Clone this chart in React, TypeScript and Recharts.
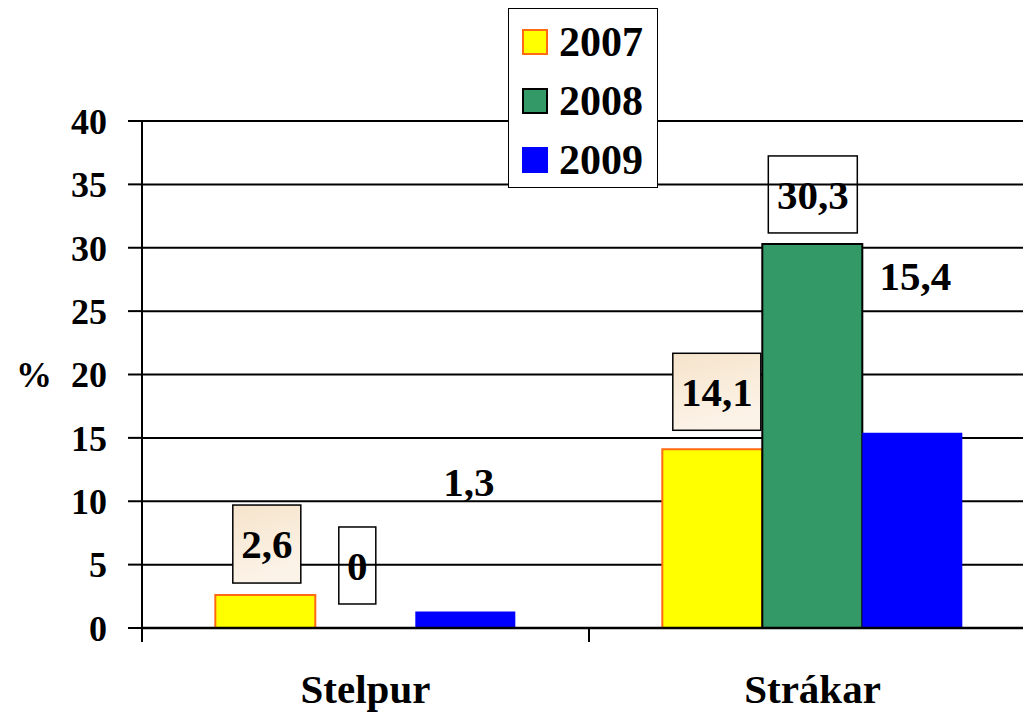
import React from "react";
import { BarChart, Bar, XAxis, YAxis, CartesianGrid, LabelList } from "recharts";

const categories = ["Stelpur", "Strákar"];
const years = ["2007", "2008", "2009"];
const values2007 = [2.6, 14.1];
const values2008 = [0, 30.3];
const values2009 = [1.3, 15.4];
const yTicks = [0, 5, 10, 15, 20, 25, 30, 35, 40];

const seriesValues: Record<string, number[]> = {
  "2007": values2007,
  "2008": values2008,
  "2009": values2009,
};

const W = 1040;
const H = 714;
const M = { top: 121, right: 4, bottom: 0, left: 0 };
const Y_W = 142;
const BAND = (W - M.left - M.right - Y_W) / categories.length;
const FONT = "'Liberation Serif', 'Times New Roman', serif";

const colors: Record<string, { fill: string; stroke: string }> = {
  "2007": { fill: "#ffff00", stroke: "#ff6a13" },
  "2008": { fill: "#339966", stroke: "#000000" },
  "2009": { fill: "#0000ff", stroke: "none" },
};

// label placement relative to bar top / bar centre (labels were moved by hand in the original)
type Lbl = { dx: number; dy: number; w: number; h: number; box: "beige" | "line" | "none" };
const labelPos: Record<string, Lbl[]> = {
  "2007": [
    { dx: 1.5, dy: -51, w: 68, h: 78, box: "beige" },
    { dx: 4.5, dy: -57.5, w: 88, h: 77, box: "beige" },
  ],
  "2008": [
    { dx: -8, dy: -62.5, w: 37, h: 77, box: "line" },
    { dx: 0.5, dy: -49.5, w: 89, h: 77, box: "line" },
  ],
  "2009": [
    { dx: 3.5, dy: -130, w: 0, h: 0, box: "none" },
    { dx: 3, dy: -157, w: 0, h: 0, box: "none" },
  ],
};

const data = categories.map((name, i) => ({
  name,
  "2007": values2007[i],
  "2008": values2008[i],
  "2009": values2009[i],
}));

const fmt = (v: number) => String(v).replace(".", ",");

function makeLabel(year: string) {
  return (props: any) => {
    const { x, y, width, value } = props;
    const idx = Math.max(0, seriesValues[year].indexOf(Number(value)));
    const p = labelPos[year][idx];
    const cx = Number(x) + Number(width) / 2 + p.dx;
    const cy = Number(y) + p.dy;
    const gid = `lg-${year}-${idx}`;
    return (
      <g>
        {p.box === "beige" && (
          <defs>
            <linearGradient id={gid} x1="0" y1="0" x2="0.3" y2="1">
              <stop offset="0%" stopColor="#f6e4cb" />
              <stop offset="100%" stopColor="#fcf3e8" />
            </linearGradient>
          </defs>
        )}
        {p.box !== "none" && (
          <rect
            x={cx - p.w / 2}
            y={cy - p.h / 2}
            width={p.w}
            height={p.h}
            fill={p.box === "beige" ? `url(#${gid})` : "none"}
            stroke="#000"
            strokeWidth={1.5}
          />
        )}
        <text
          x={cx}
          y={cy}
          dy="0.35em"
          textAnchor="middle"
          fontFamily={FONT}
          fontWeight="bold"
          fontSize={41}
          fill="#000"
        >
          {fmt(value)}
        </text>
      </g>
    );
  };
}

function CategoryTick(props: any) {
  const { x, y, payload, index } = props;
  return (
    <g>
      <line x1={x - BAND / 2} x2={x - BAND / 2} y1={y} y2={y + 14} stroke="#000" strokeWidth={2} />
      {index === categories.length - 1 && (
        <line x1={x + BAND / 2} x2={x + BAND / 2} y1={y} y2={y + 14} stroke="#000" strokeWidth={2} />
      )}
      <text x={x} y={y + 75} textAnchor="middle" fontFamily={FONT} fontWeight="bold" fontSize={41} fill="#000">
        {payload.value}
      </text>
    </g>
  );
}

export default function App() {
  return (
    <div style={{ position: "absolute", left: 0, top: 0, width: 1023, height: 714, overflow: "hidden", background: "#fff" }}>
      <BarChart width={W} height={H} data={data} margin={M} barCategoryGap="16.4%" barGap={0}>
        <CartesianGrid horizontal vertical={false} stroke="#000" strokeWidth={2} />
        <XAxis
          dataKey="name"
          height={86}
          tickLine={false}
          tickSize={0}
          tickMargin={0}
          axisLine={{ stroke: "#000", strokeWidth: 2.5 }}
          tick={<CategoryTick />}
          interval={0}
        />
        <YAxis
          width={Y_W}
          domain={[0, 40]}
          ticks={yTicks}
          interval={0}
          tickSize={14}
          tickMargin={21}
          tickLine={{ stroke: "#000", strokeWidth: 2 }}
          axisLine={{ stroke: "#000", strokeWidth: 2 }}
          tick={{ fill: "#000", fontSize: 36, fontWeight: "bold", fontFamily: FONT }}
          label={{
            value: "%",
            position: "insideLeft",
            offset: 16,
            style: { fill: "#000", fontSize: 36, fontWeight: "bold", fontFamily: FONT },
          }}
        />
        {years.map((yr) => (
          <Bar
            key={yr}
            dataKey={yr}
            fill={colors[yr].fill}
            stroke={colors[yr].stroke}
            strokeWidth={colors[yr].stroke === "none" ? 0 : 2}
            minPointSize={0.01}
            isAnimationActive={false}
          >
            <LabelList dataKey={yr} content={makeLabel(yr)} />
          </Bar>
        ))}
      </BarChart>
      <div
        style={{
          position: "absolute",
          left: 508,
          top: 8,
          width: 150,
          height: 180,
          boxSizing: "border-box",
          border: "1.5px solid #000",
          background: "#fff",
          paddingTop: 3,
          fontFamily: FONT,
          fontWeight: "bold",
          fontSize: 42,
        }}
      >
        {years.map((yr) => (
          <div key={yr} style={{ height: 59, display: "flex", alignItems: "center" }}>
            <span
              style={{
                display: "inline-block",
                width: 26,
                height: 26,
                boxSizing: "border-box",
                marginLeft: 13,
                marginRight: 11,
                background: colors[yr].fill,
                border: colors[yr].stroke === "none" ? "none" : `2px solid ${colors[yr].stroke}`,
              }}
            />
            <span style={{ lineHeight: 1 }}>{yr}</span>
          </div>
        ))}
      </div>
    </div>
  );
}
